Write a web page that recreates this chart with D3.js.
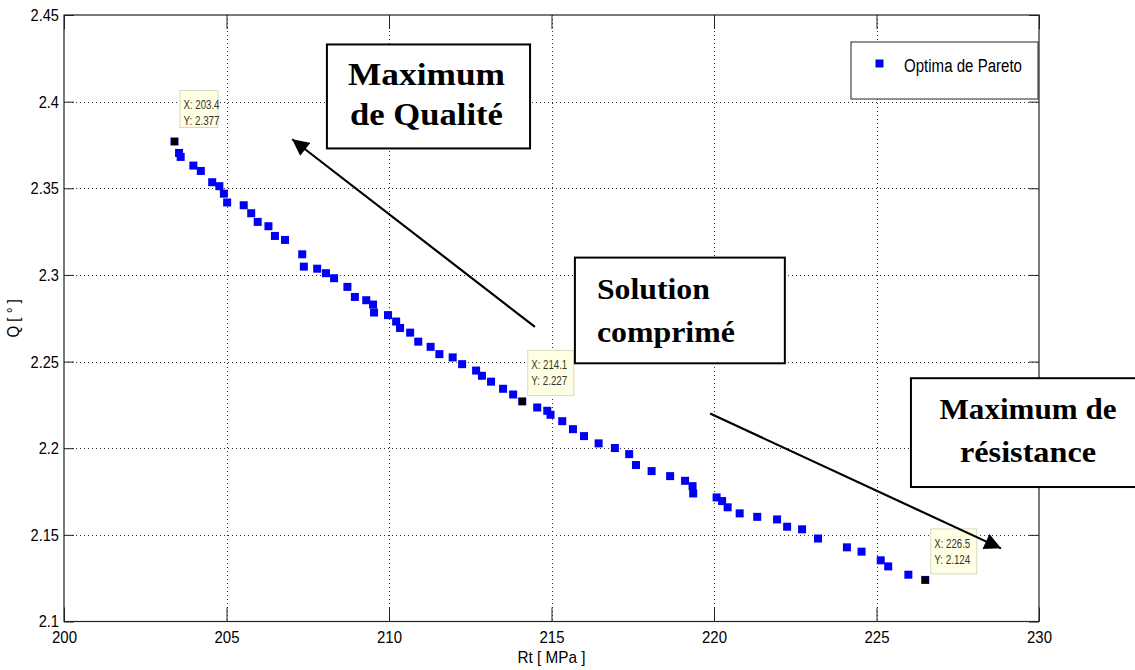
<!DOCTYPE html>
<html>
<head>
<meta charset="utf-8">
<script src="https://cdn.jsdelivr.net/npm/d3@7"></script>
<style>
    body { margin: 0; background: #fff; }
    svg text { font-family: "Liberation Sans Narrow", "Arial Narrow", "Liberation Sans", Arial, sans-serif; }
    .annot text { font-family: "Liberation Serif", "Times New Roman", serif; font-weight: bold; font-size: 30px; }
</style>
</head>
<body>
<svg id="chart" width="1135" height="670"></svg>
<script>
// Pareto front: Rt [MPa] against Q [deg]
const rtValues = [203.4, 203.54, 203.59, 203.98, 204.21, 204.56, 204.78, 204.92, 205.02, 205.53,
    205.76, 205.96, 206.29, 206.49, 206.80, 207.33, 207.38, 207.79, 208.06, 208.31,
    208.72, 208.95, 209.30, 209.51, 209.54, 209.97, 210.22, 210.34, 210.65, 210.90,
    211.28, 211.55, 211.96, 212.25, 212.68, 212.86, 213.14, 213.51, 213.82, 214.1,
    214.56, 214.87, 214.97, 215.33, 215.66, 216.00, 216.45, 216.95, 217.39, 217.60,
    218.08, 218.65, 219.11, 219.34, 219.36, 220.08, 220.25, 220.42, 220.79, 221.33,
    221.94, 222.25, 222.71, 223.20, 224.09, 224.54, 225.13, 225.36, 225.98, 226.5];
const qValues = [2.377, 2.3704, 2.3681, 2.3631, 2.3600, 2.3535, 2.3512, 2.3469, 2.3418, 2.3402,
    2.3356, 2.3306, 2.3281, 2.3225, 2.3202, 2.3119, 2.3048, 2.3036, 2.3010, 2.2981,
    2.2931, 2.2873, 2.2854, 2.2829, 2.2783, 2.2768, 2.2731, 2.2694, 2.2667, 2.2615,
    2.2585, 2.2543, 2.2524, 2.2485, 2.2448, 2.2418, 2.2384, 2.2343, 2.2310, 2.227,
    2.2235, 2.2216, 2.2193, 2.2156, 2.2110, 2.2070, 2.2028, 2.2001, 2.1966, 2.1903,
    2.1868, 2.1839, 2.1812, 2.1781, 2.1739, 2.1716, 2.1695, 2.1659, 2.1624, 2.1604,
    2.1589, 2.1547, 2.1532, 2.1479, 2.1428, 2.1403, 2.1353, 2.1318, 2.1270, 2.124];

const xTicks = [200, 205, 210, 215, 220, 225, 230];
const yTicks = [2.1, 2.15, 2.2, 2.25, 2.3, 2.35, 2.4, 2.45];

// data tips (selected points)
const tipRt = [203.4, 214.1, 226.5];
const tipQ = [2.377, 2.227, 2.124];

const legendLabel = 'Optima de Pareto';
const xLabel = 'Rt [ MPa ]';
const yLabel = 'Q [ ° ]';

// text boxes and arrows, in data units
const annotLines = [['Maximum', 'de Qualité'], ['Solution', 'comprimé'], ['Maximum de', 'résistance']];
const annotBoxRt = [[208.09, 214.34], [215.72, 222.18], [226.06, 233.0]];
const annotBoxQ = [[2.433, 2.373], [2.310, 2.249], [2.2404, 2.1776]];
const arrowFrom = [[214.49, 2.270], [219.88, 2.220]];
const arrowTo = [[207.02, 2.3783], [228.83, 2.1422]];

// no narrow font installed: squeeze text horizontally to get the same look
function squeeze(sel, f) {
    sel.each(function () {
        const w = this.getComputedTextLength();
        d3.select(this).attr('textLength', w * f).attr('lengthAdjust', 'spacingAndGlyphs');
    });
}
function fitTo(sel, widths) {
    sel.attr('textLength', (d, i) => widths[i]).attr('lengthAdjust', 'spacingAndGlyphs');
}

const svg = d3.select('#chart');
svg.append('rect').attr('width', 1135).attr('height', 670).attr('fill', '#fff');

const x = d3.scaleLinear().domain([200, 230]).range([64, 1039]);
const y = d3.scaleLinear().domain([2.1, 2.45]).range([621.5, 15]);

const [x0, x1] = x.range();
const [y0, y1] = y.range();

// dotted grid
const grid = svg.append('g')
    .attr('stroke', '#333')
    .attr('stroke-width', 1)
    .attr('stroke-dasharray', '1,3');
grid.selectAll('line.gx')
    .data(xTicks.slice(1, -1))
    .join('line')
    .attr('class', 'gx')
    .attr('x1', d => Math.round(x(d)) + 0.5).attr('x2', d => Math.round(x(d)) + 0.5)
    .attr('y1', y1).attr('y2', y0);
grid.selectAll('line.gy')
    .data(yTicks.slice(1, -1))
    .join('line')
    .attr('class', 'gy')
    .attr('y1', d => Math.round(y(d)) + 0.5).attr('y2', d => Math.round(y(d)) + 0.5)
    .attr('x1', x0).attr('x2', x1);

// axes, ticks pointing inward on all four sides
function styleAxis(g) {
    g.select('.domain').remove();
    g.selectAll('.tick line').attr('stroke', '#222');
    g.selectAll('.tick text').attr('fill', '#000').style('font-size', '17px');
}

svg.append('g')
    .attr('transform', `translate(0,${y0})`)
    .call(d3.axisBottom(x).tickValues(xTicks).tickFormat(d => String(d))
        .tickSizeInner(-14).tickSizeOuter(0).tickPadding(9))
    .call(styleAxis)
    .call(g => squeeze(g.selectAll('.tick text'), 0.88));
svg.append('g')
    .attr('transform', `translate(0,${y1})`)
    .call(d3.axisTop(x).tickValues(xTicks).tickSizeInner(-14).tickSizeOuter(0).tickFormat(''))
    .call(styleAxis);
svg.append('g')
    .attr('transform', `translate(${x0},0)`)
    .call(d3.axisLeft(y).tickValues(yTicks).tickFormat(d => String(d))
        .tickSizeInner(-10).tickSizeOuter(0).tickPadding(5))
    .call(styleAxis)
    .call(g => squeeze(g.selectAll('.tick text'), 0.86));
svg.append('g')
    .attr('transform', `translate(${x1},0)`)
    .call(d3.axisRight(y).tickValues(yTicks).tickSizeInner(-10).tickSizeOuter(0).tickFormat(''))
    .call(styleAxis);

svg.append('rect')
    .attr('x', x0).attr('y', y1)
    .attr('width', x1 - x0).attr('height', y0 - y1)
    .attr('fill', 'none')
    .attr('stroke', '#222')
    .attr('stroke-width', 1.2);

// axis labels
svg.append('text')
    .attr('x', (x0 + x1) / 2).attr('y', 663)
    .attr('text-anchor', 'middle')
    .style('font-size', '17px')
    .text(xLabel)
    .call(t => squeeze(t, 0.9));
svg.append('text')
    .attr('transform', `translate(19,${(y0 + y1) / 2}) rotate(-90)`)
    .attr('text-anchor', 'middle')
    .style('font-size', '17px')
    .text(yLabel)
    .call(t => squeeze(t, 0.88));

// markers
const pts = rtValues.map((r, i) => ({ r, q: qValues[i] }));
const sq = 8;
svg.append('g').selectAll('rect')
    .data(pts)
    .join('rect')
    .attr('x', d => x(d.r) - sq / 2)
    .attr('y', d => y(d.q) - sq / 2)
    .attr('width', sq).attr('height', sq)
    .attr('fill', '#0000f5');

// selected points + data tips
const tips = tipRt.map((r, i) => ({ r, q: tipQ[i], w: i === 0 ? 38 : 46, h: i === 0 ? 37 : 45 }));
const sel = 7;
svg.append('g').selectAll('rect')
    .data(tips)
    .join('rect')
    .attr('x', d => x(d.r) - sel / 2)
    .attr('y', d => y(d.q) - sel / 2)
    .attr('width', sel).attr('height', sel)
    .attr('fill', '#000');

const tipG = svg.append('g').selectAll('g')
    .data(tips)
    .join('g')
    .attr('transform', d => `translate(${x(d.r) + 5.5},${y(d.q) - 51})`);
tipG.append('rect')
    .attr('width', d => d.w).attr('height', d => d.h)
    .attr('fill', '#ffffe3')
    .attr('stroke', '#d9d9c4');
tipG.append('text')
    .attr('x', 3.5).attr('y', 19)
    .style('font-size', '12.5px').attr('fill', '#333')
    .attr('textLength', 36).attr('lengthAdjust', 'spacingAndGlyphs')
    .text(d => 'X: ' + d.r.toFixed(1));
tipG.append('text')
    .attr('x', 3.5).attr('y', 35)
    .style('font-size', '12.5px').attr('fill', '#333')
    .attr('textLength', 36).attr('lengthAdjust', 'spacingAndGlyphs')
    .text(d => 'Y: ' + d.q.toFixed(3));

// legend
const leg = svg.append('g').attr('transform', 'translate(851,42)');
leg.append('rect')
    .attr('width', 187).attr('height', 57)
    .attr('fill', '#fff').attr('stroke', '#222');
leg.append('rect')
    .attr('x', 24.5).attr('y', 17.5).attr('width', 8).attr('height', 8)
    .attr('fill', '#0000f5');
leg.append('text')
    .attr('x', 53).attr('y', 30)
    .style('font-size', '18px')
    .attr('textLength', 118).attr('lengthAdjust', 'spacingAndGlyphs')
    .text(legendLabel);

// arrows
svg.append('defs').append('marker')
    .attr('id', 'head')
    .attr('viewBox', '0 0 10 10')
    .attr('refX', 10).attr('refY', 5)
    .attr('markerWidth', 8).attr('markerHeight', 7.5)
    .attr('markerUnits', 'strokeWidth')
    .attr('orient', 'auto')
    .append('path')
    .attr('d', 'M0,0 L10,5 L0,10 Z')
    .attr('fill', '#000');
svg.append('g').selectAll('line')
    .data(arrowFrom)
    .join('line')
    .attr('x1', d => x(d[0])).attr('y1', d => y(d[1]))
    .attr('x2', (d, i) => x(arrowTo[i][0])).attr('y2', (d, i) => y(arrowTo[i][1]))
    .attr('stroke', '#000').attr('stroke-width', 2.2)
    .attr('marker-end', 'url(#head)');

// annotation boxes
const anchors = ['middle', 'start', 'middle'];
const lineWidths = [[157, 153], [113, 138], [177, 136]];
const annot = svg.append('g').attr('class', 'annot').selectAll('g')
    .data(annotLines)
    .join('g');
annot.append('rect')
    .attr('x', (d, i) => x(annotBoxRt[i][0]))
    .attr('y', (d, i) => y(annotBoxQ[i][0]))
    .attr('width', (d, i) => x(annotBoxRt[i][1]) - x(annotBoxRt[i][0]))
    .attr('height', (d, i) => y(annotBoxQ[i][1]) - y(annotBoxQ[i][0]))
    .attr('fill', '#fff')
    .attr('stroke', '#000').attr('stroke-width', 2);
annot.each(function (lines, i) {
    const left = x(annotBoxRt[i][0]);
    const right = x(annotBoxRt[i][1]);
    const top = y(annotBoxQ[i][0]);
    const tx = anchors[i] === 'start' ? left + 22 : (i === 2 ? 1028 : (left + right) / 2 - 2);
    d3.select(this).selectAll('text')
        .data(lines)
        .join('text')
        .attr('x', tx)
        .attr('y', (d, j) => top + 41 + j * (i === 0 ? 40 : 43))
        .attr('text-anchor', anchors[i])
        .style('font-size', i === 0 ? '31px' : '30px')
        .text(d => d)
        .call(t => fitTo(t, lineWidths[i]));
});
</script>
</body>
</html>
